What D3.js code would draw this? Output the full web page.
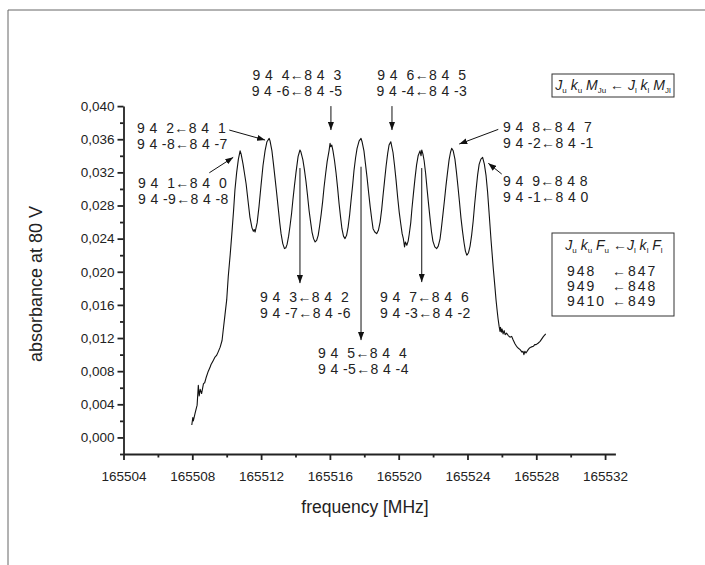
<!DOCTYPE html>
<html>
<head>
<meta charset="utf-8">
<script src="https://cdn.jsdelivr.net/npm/d3@7"></script>
<style>
  body { margin: 0; background: #fff; }
  text { font-family: "Liberation Sans", Arial, sans-serif; fill: #222; }
  .lbl { white-space: pre; font-size: 14px; letter-spacing: 0.4px; }
</style>
</head>
<body>
<svg id="chart" width="705" height="565"></svg>
<script>
// spectrum (MHz, absorbance)
const frequency = [
  165507.97,165508.03,165508.06,165508.16,165508.28,165508.35,165508.40,165508.46,165508.54,165508.65,
  165508.72,165508.80,165508.93,165509.02,165509.09,165509.22,165509.32,165509.41,165509.50,165509.62,
  165509.73,165509.80,165509.90,165510.00,165510.09,165510.20,165510.30,165510.40,165510.48,165510.58,
  165510.68,165510.78,165510.84,165510.95,165511.04,165511.13,165511.25,165511.35,165511.47,165511.55,
  165511.60,165511.65,165511.77,165511.88,165511.99,165512.11,165512.23,165512.34,165512.47,165512.52,
  165512.63,165512.72,165512.81,165512.90,165512.99,165513.08,165513.16,165513.26,165513.36,165513.44,
  165513.51,165513.60,165513.68,165513.77,165513.85,165513.94,165514.03,165514.15,165514.26,165514.31,
  165514.43,165514.52,165514.61,165514.70,165514.79,165514.88,165514.96,165515.05,165515.14,165515.23,
  165515.32,165515.40,165515.49,165515.58,165515.66,165515.75,165515.84,165515.95,165516.01,165516.05,
  165516.11,165516.18,165516.27,165516.36,165516.45,165516.53,165516.62,165516.70,165516.79,165516.88,
  165516.97,165517.06,165517.15,165517.23,165517.32,165517.40,165517.49,165517.58,165517.70,165517.81,
  165517.87,165517.98,165518.07,165518.16,165518.25,165518.34,165518.43,165518.51,165518.61,165518.72,
  165518.82,165518.92,165519.01,165519.09,165519.18,165519.27,165519.36,165519.44,165519.54,165519.59,
  165519.67,165519.76,165519.85,165519.94,165520.03,165520.12,165520.20,165520.27,165520.34,165520.39,
  165520.47,165520.55,165520.61,165520.70,165520.77,165520.86,165520.95,165521.04,165521.13,165521.24,
  165521.30,165521.34,165521.41,165521.48,165521.57,165521.65,165521.74,165521.83,165521.91,165521.99,
  165522.10,165522.21,165522.30,165522.40,165522.48,165522.57,165522.66,165522.75,165522.84,165522.93,
  165523.01,165523.08,165523.17,165523.27,165523.36,165523.45,165523.54,165523.62,165523.71,165523.80,
  165523.88,165523.96,165524.06,165524.15,165524.24,165524.33,165524.41,165524.50,165524.59,165524.68,
  165524.78,165524.88,165524.98,165525.08,165525.17,165525.26,165525.37,165525.50,165525.59,165525.66,
  165525.73,165525.78,165525.84,165525.89,165525.92,165525.97,165526.01,165526.07,165526.13,165526.19,
  165526.27,165526.37,165526.47,165526.57,165526.65,165526.76,165526.85,165526.94,165527.06,165527.17,
  165527.23,165527.28,165527.34,165527.40,165527.53,165527.61,165527.69,165527.83,165527.91,165527.99,
  165528.12,165528.22,165528.32,165528.42,165528.55
];
const absorbance = [
  0.0015,0.0024,0.0020,0.0029,0.0039,0.0063,0.0050,0.0058,0.0053,0.0065,
  0.0066,0.0072,0.0080,0.0084,0.0088,0.0093,0.0097,0.0099,0.0103,0.0109,
  0.0117,0.0130,0.0148,0.0166,0.0194,0.0220,0.0246,0.0274,0.0299,0.0320,
  0.0336,0.0346,0.0342,0.0330,0.0318,0.0306,0.0284,0.0266,0.0253,0.0249,
  0.0251,0.0248,0.0259,0.0279,0.0303,0.0328,0.0346,0.0357,0.0361,0.0358,
  0.0346,0.0330,0.0313,0.0296,0.0278,0.0260,0.0246,0.0234,0.0228,0.0229,
  0.0233,0.0243,0.0255,0.0270,0.0287,0.0304,0.0320,0.0339,0.0347,0.0345,
  0.0335,0.0323,0.0309,0.0292,0.0274,0.0260,0.0248,0.0240,0.0236,0.0238,
  0.0244,0.0255,0.0269,0.0285,0.0302,0.0318,0.0333,0.0346,0.0355,0.0351,
  0.0353,0.0346,0.0334,0.0319,0.0301,0.0283,0.0266,0.0252,0.0243,0.0240,
  0.0244,0.0254,0.0269,0.0286,0.0304,0.0322,0.0337,0.0349,0.0358,0.0361,
  0.0357,0.0346,0.0330,0.0314,0.0296,0.0279,0.0264,0.0252,0.0248,0.0246,
  0.0250,0.0260,0.0275,0.0292,0.0310,0.0328,0.0343,0.0353,0.0357,0.0352,
  0.0344,0.0328,0.0310,0.0290,0.0272,0.0258,0.0246,0.0240,0.0230,0.0236,
  0.0232,0.0237,0.0245,0.0259,0.0276,0.0295,0.0313,0.0329,0.0340,0.0346,
  0.0340,0.0347,0.0342,0.0334,0.0318,0.0300,0.0281,0.0263,0.0248,0.0237,
  0.0230,0.0228,0.0231,0.0239,0.0252,0.0269,0.0286,0.0304,0.0320,0.0335,
  0.0344,0.0349,0.0346,0.0336,0.0320,0.0302,0.0283,0.0265,0.0249,0.0235,
  0.0225,0.0220,0.0223,0.0231,0.0244,0.0261,0.0280,0.0299,0.0317,0.0330,
  0.0336,0.0338,0.0330,0.0316,0.0296,0.0270,0.0238,0.0204,0.0183,0.0166,
  0.0152,0.0143,0.0134,0.0128,0.0133,0.0127,0.0131,0.0125,0.0129,0.0124,
  0.0126,0.0123,0.0121,0.0122,0.0118,0.0113,0.0110,0.0108,0.0106,0.0103,
  0.0104,0.0100,0.0104,0.0102,0.0106,0.0108,0.0109,0.0110,0.0112,0.0112,
  0.0114,0.0116,0.0119,0.0122,0.0125
];

const xTicks = [165504, 165508, 165512, 165516, 165520, 165524, 165528, 165532];
const xMinor = [165506, 165510, 165514, 165518, 165522, 165526, 165530];
const yTicks = [0, 0.004, 0.008, 0.012, 0.016, 0.020, 0.024, 0.028, 0.032, 0.036, 0.040];
const yMinor = [-0.002, 0.002, 0.006, 0.010, 0.014, 0.018, 0.022, 0.026, 0.030, 0.034, 0.038];

// transition labels, positioned in data units
const annotations = [
  { lines: ["9 4  1\u21908 4  0", "9 4 -9\u21908 4 -8"], at: [165504.84, 0.03017], anchor: "start",
    arrow: [165508.99, 0.03195, 165510.38, 0.03381] },
  { lines: ["9 4  2\u21908 4  1", "9 4 -8\u21908 4 -7"], at: [165504.78, 0.03675], anchor: "start",
    arrow: [165510.15, 0.03711, 165512.23, 0.03590] },
  { lines: ["9 4  3\u21908 4  2", "9 4 -7\u21908 4 -6"], at: [165511.94, 0.01640], anchor: "start",
    arrow: [165514.26, 0.03252, 165514.26, 0.01863] },
  { lines: ["9 4  4\u21908 4  3", "9 4 -6\u21908 4 -5"], at: [165514.09, 0.04315], anchor: "middle",
    arrow: [165516.06, 0.04000, 165516.06, 0.03711] },
  { lines: ["9 4  5\u21908 4  4", "9 4 -5\u21908 4 -4"], at: [165515.31, 0.00958], anchor: "start",
    arrow: [165517.81, 0.03268, 165517.81, 0.01175] },
  { lines: ["9 4  6\u21908 4  5", "9 4 -4\u21908 4 -3"], at: [165521.35, 0.04315], anchor: "middle",
    arrow: [165519.61, 0.04000, 165519.61, 0.03711] },
  { lines: ["9 4  7\u21908 4  6", "9 4 -3\u21908 4 -2"], at: [165518.91, 0.01640], anchor: "start",
    arrow: [165521.34, 0.03252, 165521.34, 0.01875] },
  { lines: ["9 4  8\u21908 4  7", "9 4 -2\u21908 4 -1"], at: [165526.06, 0.03693], anchor: "start",
    arrow: [165525.79, 0.03719, 165523.52, 0.03542] },
  { lines: ["9 4  9\u21908 4 8", "9 4 -1\u21908 4 0"], at: [165526.06, 0.03041], anchor: "start",
    arrow: [165525.99, 0.03180, 165525.21, 0.03309] }
];

const hfsRows = [["948", "\u2190847"], ["949", "\u2190848"], ["9410", "\u2190849"]];

const svg = d3.select("#chart");

const x = d3.scaleLinear().domain([165504, 165532.6]).range([123.5, 615.4]);
const y = d3.scaleLinear().domain([-0.002, 0.040]).range([454, 106.1]);

// outer frame
svg.append("line").attr("x1", 8).attr("y1", 10).attr("x2", 705).attr("y2", 10)
  .attr("stroke", "#666").attr("stroke-width", 1);
svg.append("line").attr("x1", 8).attr("y1", 10).attr("x2", 8).attr("y2", 565)
  .attr("stroke", "#666").attr("stroke-width", 1);

svg.append("defs").append("marker")
  .attr("id", "head").attr("viewBox", "0 0 8 6")
  .attr("refX", 8).attr("refY", 3)
  .attr("markerWidth", 8).attr("markerHeight", 6)
  .attr("markerUnits", "userSpaceOnUse").attr("orient", "auto")
  .append("path").attr("d", "M0,0 L8,3 L0,6 Z").attr("fill", "#111");

// axes
const fmtY = d3.formatLocale({ decimal: ",", thousands: ".", grouping: [3], currency: ["", ""] }).format(".3f");

const gx = svg.append("g").attr("transform", "translate(0,454)");
gx.call(d3.axisBottom(x).tickValues(xTicks).tickFormat(d3.format("d")).tickSize(6).tickSizeOuter(0).tickPadding(11));
const gxm = svg.append("g").attr("transform", "translate(0,454)");
gxm.call(d3.axisBottom(x).tickValues(xMinor).tickFormat("").tickSize(3.5).tickSizeOuter(0));
gxm.select(".domain").remove();

const gy = svg.append("g").attr("transform", "translate(123.5,0)");
gy.call(d3.axisLeft(y).tickValues(yTicks).tickFormat(fmtY).tickSize(6).tickSizeOuter(0).tickPadding(3));
const gym = svg.append("g").attr("transform", "translate(123.5,0)");
gym.call(d3.axisLeft(y).tickValues(yMinor).tickFormat("").tickSize(3.5).tickSizeOuter(0));
gym.select(".domain").remove();

svg.selectAll(".domain, .tick line").attr("stroke", "#222").attr("stroke-width", 1.8);
svg.selectAll(".tick text").attr("fill", "#222")
  .style("font-family", "'Liberation Sans', Arial, sans-serif").style("font-size", "13.5px");

svg.append("text").attr("x", 365).attr("y", 513).attr("text-anchor", "middle")
  .style("font-size", "17.5px").text("frequency [MHz]");
svg.append("text").attr("transform", "translate(42,284) rotate(-90)").attr("text-anchor", "middle")
  .style("font-size", "18px").text("absorbance at 80 V");

// spectrum
const pts = frequency.map((f, i) => [f, absorbance[i]]);
svg.append("path").datum(pts)
  .attr("fill", "none").attr("stroke", "#111").attr("stroke-width", 1.1)
  .attr("stroke-linejoin", "round")
  .attr("d", d3.line().x(d => x(d[0])).y(d => y(d[1])));

// labels and arrows
annotations.forEach(a => {
  const t = svg.append("text").attr("class", "lbl")
    .attr("text-anchor", a.anchor)
    .attr("x", x(a.at[0])).attr("y", y(a.at[1]));
  a.lines.forEach((s, i) => {
    t.append("tspan").attr("x", x(a.at[0])).attr("dy", i ? 16 : 0).text(s);
  });
  svg.append("line")
    .attr("x1", x(a.arrow[0])).attr("y1", y(a.arrow[1]))
    .attr("x2", x(a.arrow[2])).attr("y2", y(a.arrow[3]))
    .attr("stroke", "#111").attr("stroke-width", 1)
    .attr("marker-end", "url(#head)");
});

// quantum-number legends
function rich(g, cx, cy, parts) {
  const t = g.append("text").attr("x", cx).attr("y", cy).attr("text-anchor", "middle")
    .style("font-size", "14px");
  let shifted = false;
  parts.forEach(([s, k]) => {
    const sp = t.append("tspan").text(s);
    if (k === "s") {
      sp.style("font-size", "8px").attr("dy", 3);
      shifted = true;
    } else {
      if (shifted) { sp.attr("dy", -3); shifted = false; }
      if (k === "i") sp.style("font-style", "italic");
    }
  });
  return t;
}

const box1 = svg.append("g");
box1.append("rect").attr("x", 552).attr("y", 74).attr("width", 122).attr("height", 23)
  .attr("fill", "#fff").attr("stroke", "#333").attr("stroke-width", 1);
rich(box1, 613, 90, [["J", "i"], ["u", "s"], [" k", "i"], ["u", "s"], [" M", "i"], ["Ju", "s"],
  [" \u2190 ", "n"], ["J", "i"], ["l", "s"], [" k", "i"], ["l", "s"], [" M", "i"], ["Jl", "s"]]);

const box2 = svg.append("g");
box2.append("rect").attr("x", 552).attr("y", 233).attr("width", 122).attr("height", 83)
  .attr("fill", "#fff").attr("stroke", "#333").attr("stroke-width", 1);
rich(box2, 614, 250, [["J", "i"], ["u", "s"], [" k", "i"], ["u", "s"], [" F", "i"], ["u", "s"],
  [" \u2190", "n"], ["J", "i"], ["l", "s"], [" k", "i"], ["l", "s"], [" F", "i"], ["l", "s"]]);
hfsRows.forEach((r, i) => {
  box2.append("text").attr("x", 567).attr("y", 276 + i * 15).style("font-size", "14px")
    .style("letter-spacing", "2px").text(r[0]);
  box2.append("text").attr("x", 612).attr("y", 276 + i * 15).style("font-size", "14px")
    .style("letter-spacing", "2px").text(r[1]);
});
</script>
</body>
</html>
